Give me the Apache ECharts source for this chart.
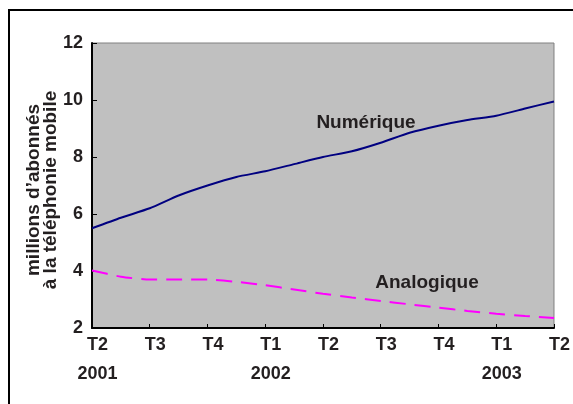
<!DOCTYPE html>
<html>
<head>
<meta charset="utf-8">
<script src="https://cdn.jsdelivr.net/npm/echarts@6/dist/echarts.min.js"></script>
<style>
  html, body { margin: 0; padding: 0; background: #fff; }
  #chart { width: 573px; height: 404px; }
</style>
</head>
<body>
<div id="chart"></div>
<script>
// quarterly ticks, with one data point every half quarter
const quarters = ['T2', 'T3', 'T4', 'T1', 'T2', 'T3', 'T4', 'T1', 'T2']
const years = ['2001', '', '', '2002', '', '', '', '2003', '']
const numerique = [5.5, 5.87, 6.2, 6.65, 7.0, 7.3, 7.5, 7.75, 8.0, 8.2, 8.5, 8.85, 9.1, 9.3, 9.45, 9.7, 9.95]
const analogique = [4.02, 3.8, 3.7, 3.7, 3.7, 3.62, 3.5, 3.35, 3.2, 3.07, 2.95, 2.83, 2.71, 2.6, 2.5, 2.42, 2.35]
const yTicks = { min: 2, max: 12, interval: 2 }

const categories = []
quarters.forEach((q, i) => {
  categories.push(q + ' ' + (years[i] || ''))
  if (i < quarters.length - 1) categories.push('')
})

const font = "'Liberation Sans', Arial, sans-serif"
const ink = '#231f20'

const chart = echarts.init(document.getElementById('chart'), null, { renderer: 'canvas' })
chart.setOption({
  animation: false,
  grid: {
    left: 92, right: 19, top: 43, bottom: 76,
    show: true,
    backgroundColor: '#c0c0c0',
    borderColor: '#808080',
    borderWidth: 1,
  },
  xAxis: {
    type: 'category',
    data: categories,
    boundaryGap: false,
    axisLine: { lineStyle: { color: '#000', width: 2 } },
    axisTick: { inside: true, length: 4, interval: 1, lineStyle: { color: '#000' } },
    axisLabel: {
      interval: 1,
      margin: 7,
      padding: [0, 0, 0, 11],
      formatter: (v, idx) => {
        const k = idx / 2
        const q = quarters[k]
        return years[k] ? `{q|${q}}\n{y|${years[k]}}` : `{q|${q}}`
      },
      rich: {
        q: { fontFamily: font, fontWeight: 'bold', fontSize: 18, color: ink, lineHeight: 21 },
        y: { fontFamily: font, fontWeight: 'bold', fontSize: 18, color: ink, lineHeight: 36 },
      },
    },
    splitLine: { show: false },
  },
  yAxis: {
    type: 'value',
    min: yTicks.min,
    max: yTicks.max,
    interval: yTicks.interval,
    axisLine: { show: true, lineStyle: { color: '#000', width: 2 } },
    axisTick: { show: true, inside: true, length: 5, lineStyle: { color: '#000' } },
    axisLabel: { margin: 9, fontFamily: font, fontWeight: 'bold', fontSize: 18, color: ink },
    splitLine: { show: false },
  },
  series: [
    {
      name: 'Numérique',
      type: 'line',
      data: numerique,
      showSymbol: false,
      smooth: 0.2,
      lineStyle: { color: '#000080', width: 2 },
    },
    {
      name: 'Analogique',
      type: 'line',
      data: analogique,
      showSymbol: false,
      smooth: 0.2,
      lineStyle: { color: '#ff00ff', width: 2, type: [16, 9] },
    },
  ],
  graphic: [
    {
      type: 'rect',
      shape: { x: 9, y: 10, width: 640, height: 440 },
      style: { fill: 'none', stroke: '#000', lineWidth: 2 },
      silent: true,
    },
    {
      type: 'text',
      x: 42, y: 190,
      rotation: Math.PI / 2,
      style: {
        text: 'millions d\u2019abonnés\nà la téléphonie mobile',
        fontFamily: font, fontWeight: 'bold', fontSize: 19, lineHeight: 17,
        fill: ink, align: 'center', verticalAlign: 'middle',
      },
    },
    {
      type: 'text',
      x: 366, y: 123,
      style: {
        text: 'Numérique', fontFamily: font, fontWeight: 'bold', fontSize: 19,
        fill: ink, align: 'center', verticalAlign: 'middle',
      },
    },
    {
      type: 'text',
      x: 427, y: 283,
      style: {
        text: 'Analogique', fontFamily: font, fontWeight: 'bold', fontSize: 19,
        fill: ink, align: 'center', verticalAlign: 'middle',
      },
    },
  ],
})
</script>
</body>
</html>
